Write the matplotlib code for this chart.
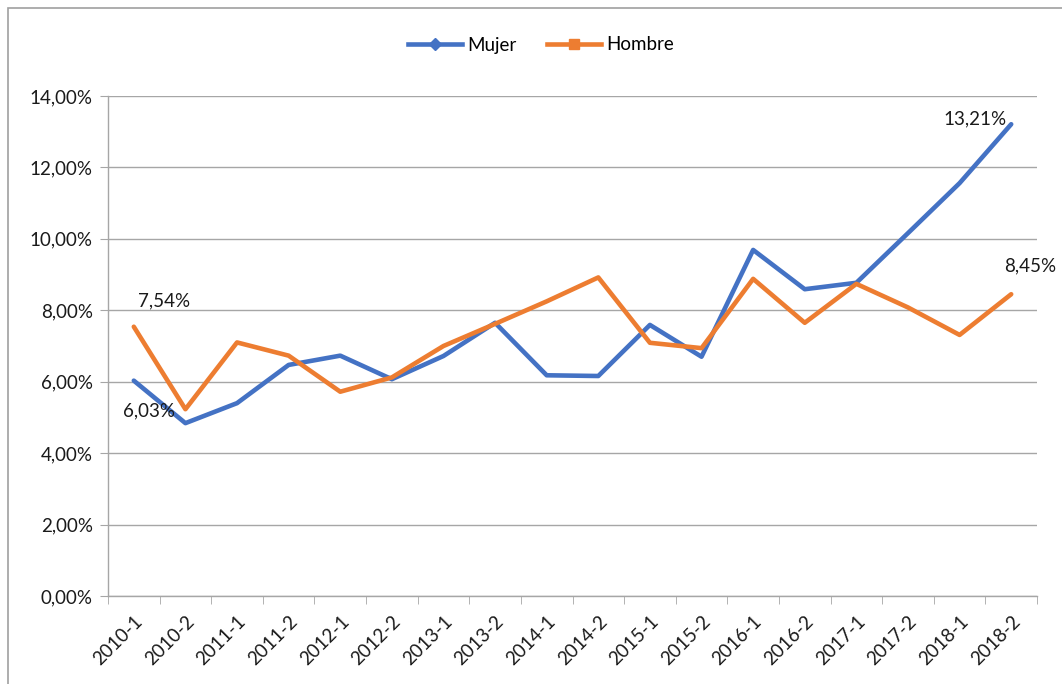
import matplotlib
matplotlib.use("Agg")
import matplotlib.pyplot as plt
from matplotlib.lines import Line2D
from matplotlib.patches import Rectangle
import numpy as np

periods = ["2010-1", "2010-2", "2011-1", "2011-2", "2012-1", "2012-2",
           "2013-1", "2013-2", "2014-1", "2014-2", "2015-1", "2015-2",
           "2016-1", "2016-2", "2017-1", "2017-2", "2018-1", "2018-2"]
mujer = [6.03, 4.84, 5.40, 6.47, 6.73, 6.07, 6.72, 7.65, 6.18, 6.16,
         7.59, 6.70, 9.69, 8.59, 8.77, 10.16, 11.56, 13.21]
hombre = [7.54, 5.23, 7.10, 6.73, 5.72, 6.12, 7.00, 7.62, 8.25, 8.92,
          7.09, 6.94, 8.88, 7.65, 8.74, 8.08, 7.31, 8.45]
yticks = [0, 2, 4, 6, 8, 10, 12, 14]

BLUE = "#4472C4"
ORANGE = "#ED7D31"
GRID = "#a6a6a6"
FS = 13.5

plt.rcParams["font.family"] = ["Lato", "DejaVu Sans"]


def pct(v, nd=2):
    return f"{v:.{nd}f}%".replace(".", ",")


fig = plt.figure(figsize=(10.62, 6.84), dpi=100)
ax = fig.add_axes([108 / 1062, 1 - 596 / 684, 929 / 1062, 500 / 684])

# chart area frame (only left/top edges visible in the crop)
fig.patches.append(Rectangle((8 / 1062, -0.1), 1.2, 1 - 8 / 684 + 0.1,
                             transform=fig.transFigure, fill=False,
                             edgecolor="#a0a0a0", linewidth=1.2))

x = np.arange(len(periods))
ax.plot(x, mujer, color=BLUE, linewidth=3.3, solid_joinstyle="round",
        solid_capstyle="round", zorder=3)
ax.plot(x, hombre, color=ORANGE, linewidth=3.3, solid_joinstyle="round",
        solid_capstyle="round", zorder=3)

ax.set_xlim(-0.5, len(periods) - 0.5)
ax.set_ylim(0, 14)
ax.set_yticks(yticks)
ax.set_yticklabels([pct(v) for v in yticks], fontsize=FS, color="#1a1a1a")
ax.yaxis.grid(True, color=GRID, linewidth=1)
ax.set_axisbelow(True)
ax.tick_params(axis="y", length=6, color=GRID, pad=5)

ax.set_xticks(x)
ax.set_xticklabels(periods, rotation=45, ha="right", rotation_mode="anchor",
                   fontsize=FS, color="#1a1a1a")
ax.set_xticks(np.arange(len(periods) + 1) - 0.5, minor=True)
ax.tick_params(axis="x", which="major", length=0, pad=12)
ax.tick_params(axis="x", which="minor", length=6, color=GRID)

for side in ["top", "right"]:
    ax.spines[side].set_visible(False)
for side in ["left", "bottom"]:
    ax.spines[side].set_color(GRID)
    ax.spines[side].set_linewidth(1)

# data labels
labels = [
    (0, mujer[0], (15, -30)),
    (0, hombre[0], (30, 26)),
    (len(periods) - 1, mujer[-1], (-36, 5)),
    (len(periods) - 1, hombre[-1], (19, 28)),
]
for xi, yi, off in labels:
    ax.annotate(pct(yi), (xi, yi), xytext=off, textcoords="offset pixels",
                ha="center", va="center", fontsize=FS, color="#1a1a1a",
                annotation_clip=False)

handles = [
    Line2D([], [], color=BLUE, linewidth=3.3, marker="D", markersize=6.5),
    Line2D([], [], color=ORANGE, linewidth=3.3, marker="s", markersize=6.5),
]
fig.legend(handles, ["Mujer", "Hombre"], loc="center",
           bbox_to_anchor=(541 / 1062, 1 - 45 / 684), ncol=2, frameon=False,
           fontsize=FS, handlelength=2.9, columnspacing=1.6,
           handletextpad=0.3)

fig.savefig("out.png", dpi=100)
